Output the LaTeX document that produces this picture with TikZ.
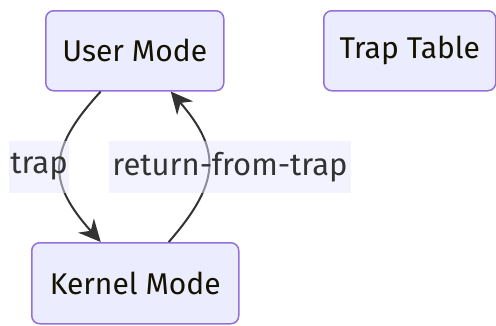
\documentclass[tikz,border=0pt]{standalone}
\usepackage{fontspec}
\setmainfont{Fira Sans}
\usetikzlibrary{arrows.meta}
\definecolor{nodefill}{HTML}{ECECFF}
\definecolor{nodeline}{HTML}{9370DB}
\definecolor{nodetext}{HTML}{131300}
\definecolor{edgeline}{HTML}{333333}
\definecolor{labelbg}{HTML}{E8E8FF}
\tikzset{
  statebox/.style={draw=nodeline, fill=nodefill, line width=1.5pt, rounded corners=8pt,
    text=nodetext, font=\fontsize{30}{34}\selectfont, anchor=north west, inner sep=0pt},
  edgelabel/.style={fill=labelbg, fill opacity=0.5, text opacity=1, text=edgeline,
    font=\fontsize{31}{35}\selectfont, inner sep=0pt},
  flow/.style={draw=edgeline, line width=2pt, -{Stealth[length=22pt,width=21pt,inset=7pt]}},
}
\begin{document}
\begin{tikzpicture}[x=1pt,y=-1pt]
  \useasboundingbox (0,0) rectangle (496,325);
  % states
  \node[statebox, minimum width=178pt, minimum height=80pt] (user) at (45,10) {User Mode};
  \node[statebox, minimum width=172pt, minimum height=80pt] (table) at (323,10) {Trap Table};
  \node[statebox, minimum width=207pt, minimum height=81pt] (kernel) at (31,242) {Kernel Mode};
  % anchor points on the box edges
  \coordinate (uA) at ([xshift=-34pt]user.south);
  \coordinate (uB) at ([xshift=36pt]user.south);
  \coordinate (kA) at ([xshift=-34.5pt]kernel.north);
  \coordinate (kB) at ([xshift=33.5pt]kernel.north);
  % transitions
  \draw[flow] (uA) .. controls (47,150) and (47,182) .. (kA);
  \draw[flow] (kB) .. controls (221,182) and (221,150) .. (uB);
  % transition labels
  \node[edgelabel, minimum width=60pt, minimum height=52pt] (ltrap) at (39,167) {trap};
  \node[edgelabel, minimum width=242pt, minimum height=52pt] (lret) at (230,167) {return-from-trap};
\end{tikzpicture}
\end{document}
